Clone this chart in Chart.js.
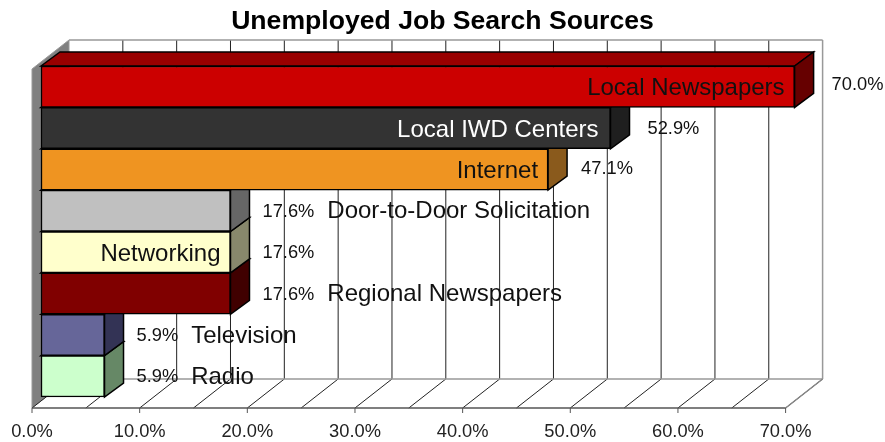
<!DOCTYPE html>
<html>
<head>
<meta charset="utf-8">
<title>Unemployed Job Search Sources</title>
<style>
	html, body { margin: 0; padding: 0; background: #fff; }
	canvas { display: block; }
</style>
<script src="https://cdn.jsdelivr.net/npm/chart.js@4/dist/chart.umd.min.js"></script>
</head>
<body>
<canvas id="chart" width="885" height="442"></canvas>
<script>
const categories = [
	'Local Newspapers',
	'Local IWD Centers',
	'Internet',
	'Door-to-Door Solicitation',
	'Networking',
	'Regional Newspapers',
	'Television',
	'Radio',
];
const percentages = [ 70.0, 52.9, 47.1, 17.6, 17.6, 17.6, 5.9, 5.9 ];
const frontColors = [ '#cc0000', '#333333', '#ef9421', '#c0c0c0', '#ffffcc', '#800000', '#666699', '#ccffcc' ];
const topColors = [ '#990000', '#262626', '#b36f19', '#909090', '#bfbf99', '#600000', '#4d4d73', '#99bf99' ];
const sideColors = [ '#660000', '#1f1f1f', '#8a5a1c', '#666666', '#88886c', '#400000', '#333355', '#668866' ];
const labelColors = [ '#111', '#fff', '#111', '#111', '#111', '#111', '#111', '#111' ];
const labelInside = [ true, true, true, false, true, false, false, false ];

// Box depth of the plot floor/walls and of each bar
const WALL_DX = 37;
const WALL_DY = 29;
const BAR_DX = 19;
const BAR_DY = 14;
const FLOOR_Y = 408;
const BAR_SHIFT = 9;

// Gap between the end of a bar and its value text
const valueGaps = [ 18, 18, 14, 13, 13, 13, 13, 13 ];
const valueLift = [ 3, 0, 1, 0, 0, 0, 0, 0 ];
const insideGaps = [ 10, 12, 10, 0, 10, 0, 0, 0 ];

const poly = ( ctx, points, fill, stroke, width ) => {
	ctx.beginPath();
	points.forEach( ( p, i ) => ( i ? ctx.lineTo( p[ 0 ], p[ 1 ] ) : ctx.moveTo( p[ 0 ], p[ 1 ] ) ) );
	ctx.closePath();
	if ( fill ) {
		ctx.fillStyle = fill;
		ctx.fill();
	}
	if ( stroke ) {
		ctx.strokeStyle = stroke;
		ctx.lineWidth = width || 1;
		ctx.stroke();
	}
};

const line = ( ctx, x1, y1, x2, y2, color, width ) => {
	ctx.beginPath();
	ctx.moveTo( x1, y1 );
	ctx.lineTo( x2, y2 );
	ctx.strokeStyle = color;
	ctx.lineWidth = width || 1;
	ctx.stroke();
};

// Back wall, side wall, floor and the grid on them
const wallsPlugin = {
	id: 'walls',
	beforeDatasetsDraw( chart ) {
		const { ctx, scales } = chart;
		const x = scales.x;
		const left = x.getPixelForValue( 0 );
		const right = x.getPixelForValue( 70 );
		const top = FLOOR_Y - 339;

		ctx.save();
		poly( ctx, [
			[ left, top ],
			[ left + WALL_DX, top - WALL_DY ],
			[ left + WALL_DX, FLOOR_Y - WALL_DY ],
			[ left, FLOOR_Y ],
		], '#808080', '#999999', 1 );

		x.ticks.forEach( ( tick ) => {
			const px = x.getPixelForValue( tick.value );
			if ( tick.value > 0 && tick.value < 70 ) {
				line( ctx, px + WALL_DX, top - WALL_DY, px + WALL_DX, FLOOR_Y - WALL_DY, '#222', 1 );
			}
			line( ctx, px, FLOOR_Y, px + WALL_DX, FLOOR_Y - WALL_DY, '#222', 1 );
			if ( tick.value % 10 === 0 ) {
				line( ctx, px, FLOOR_Y, px, FLOOR_Y + 5, '#555', 1 );
			}
		} );

		line( ctx, left + WALL_DX, top - WALL_DY, right + WALL_DX, top - WALL_DY, '#999', 1.5 );
		line( ctx, right + WALL_DX, top - WALL_DY, right + WALL_DX, FLOOR_Y - WALL_DY, '#999', 1.5 );
		line( ctx, left + WALL_DX, FLOOR_Y - WALL_DY, right + WALL_DX, FLOOR_Y - WALL_DY, '#999', 1.5 );
		line( ctx, right, FLOOR_Y, right + WALL_DX, FLOOR_Y - WALL_DY, '#888', 1.5 );
		line( ctx, left, FLOOR_Y, right, FLOOR_Y, '#555', 1.5 );

		// Top and side faces go under the bar fronts, lowest bar first
		const bars = chart.getDatasetMeta( 0 ).data;
		for ( let i = bars.length - 1; i >= 0; i-- ) {
			const bar = bars[ i ];
			const barTop = bar.y - bar.height / 2;
			const barBottom = bar.y + bar.height / 2;
			poly( ctx, [
				[ bar.base, barTop ],
				[ bar.base + BAR_DX, barTop - BAR_DY ],
				[ bar.x + BAR_DX, barTop - BAR_DY ],
				[ bar.x, barTop ],
			], topColors[ i ], '#000', 1.5 );
			poly( ctx, [
				[ bar.x, barTop ],
				[ bar.x + BAR_DX, barTop - BAR_DY ],
				[ bar.x + BAR_DX, barBottom - BAR_DY ],
				[ bar.x, barBottom ],
			], sideColors[ i ], '#000', 1.5 );
		}
		ctx.restore();
	},
};

// Value and category text beside or inside each bar
const barTextPlugin = {
	id: 'barText',
	afterDatasetsDraw( chart ) {
		const { ctx } = chart;
		ctx.save();
		ctx.textBaseline = 'middle';
		chart.getDatasetMeta( 0 ).data.forEach( ( bar, i ) => {
			const valueX = bar.x + BAR_DX + valueGaps[ i ];
			const valueText = percentages[ i ].toFixed( 1 ) + '%';

			ctx.font = '18.3px "Liberation Sans"';
			ctx.textAlign = 'left';
			ctx.fillStyle = '#111';
			ctx.fillText( valueText, valueX, bar.y + 1 - valueLift[ i ] );
			const valueWidth = ctx.measureText( valueText ).width;

			ctx.font = '24px "Liberation Sans"';
			ctx.fillStyle = labelColors[ i ];
			if ( labelInside[ i ] ) {
				ctx.textAlign = 'right';
				ctx.fillText( categories[ i ], bar.x - insideGaps[ i ], bar.y + 2 );
			} else {
				ctx.fillText( categories[ i ], valueX + valueWidth + 13, bar.y + 1 );
			}
		} );
		ctx.restore();
	},
};

new Chart( document.getElementById( 'chart' ), {
	type: 'bar',
	data: {
		labels: categories,
		datasets: [
			{
				data: percentages,
				xAxisID: 'xBar',
				backgroundColor: frontColors,
				borderColor: '#000',
				borderWidth: 1.5,
				borderSkipped: false,
				barPercentage: 1,
				categoryPercentage: 1,
				clip: false,
			},
		],
	},
	options: {
		indexAxis: 'y',
		responsive: false,
		animation: false,
		layout: {
			padding: 0,
		},
		plugins: {
			legend: { display: false },
			tooltip: { enabled: false },
			title: {
				display: true,
				text: 'Unemployed Job Search Sources',
				color: '#000',
				font: { family: '"Liberation Sans"', size: 26.6, weight: 'bold', lineHeight: 1.2 },
				padding: { top: 6, bottom: 28.1 },
			},
		},
		scales: {
			x: {
				type: 'linear',
				position: 'bottom',
				min: 0,
				max: 70,
				grid: { display: false },
				border: { display: false },
				ticks: {
					stepSize: 5,
					autoSkip: false,
					maxRotation: 0,
					padding: 16,
					color: '#222',
					font: { family: '"Liberation Sans"', size: 18.3 },
					callback: ( value ) => ( value % 10 === 0 ? value.toFixed( 1 ) + '%' : '' ),
				},
				afterFit( scale ) {
					scale.height = 45;
					scale.paddingLeft = 32;
					scale.paddingRight = 99.4;
				},
			},
			// Same range as x, pushed right so the bars stand off the side wall
			xBar: {
				type: 'linear',
				display: false,
				position: 'bottom',
				min: -BAR_SHIFT / 10.76,
				max: 70 - BAR_SHIFT / 10.76,
			},
			y: {
				display: false,
			},
		},
	},
	plugins: [ wallsPlugin, barTextPlugin ],
} );
</script>
</body>
</html>
